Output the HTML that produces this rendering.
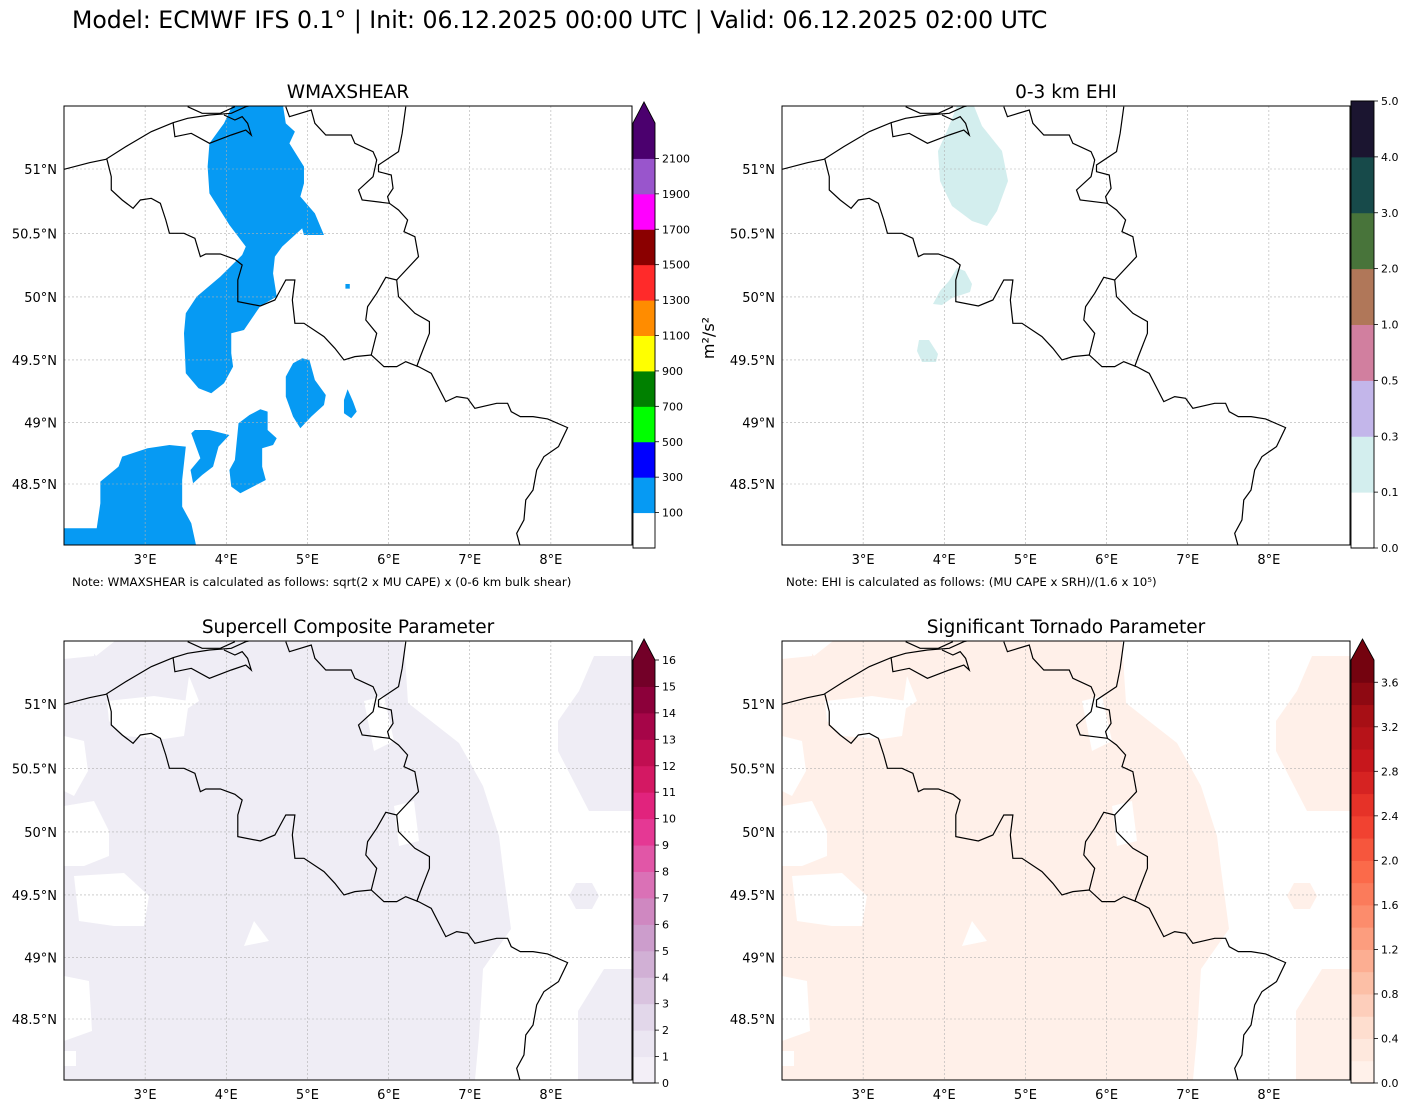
<!DOCTYPE html>
<html><head><meta charset="utf-8"><style>
html,body{margin:0;padding:0;background:#fff;}
svg{display:block;font-family:"DejaVu Sans","Liberation Sans",sans-serif;}
</style></head><body>
<svg id="fig" width="1409" height="1109" viewBox="0 0 1409 1109" xmlns="http://www.w3.org/2000/svg">
<rect width="1409" height="1109" fill="#fff"/>
<text x="72" y="28" font-size="23.6" fill="#000">Model: ECMWF IFS 0.1° | Init: 06.12.2025 00:00 UTC | Valid: 06.12.2025 02:00 UTC</text>
<defs>
<clipPath id="clip"><rect x="0" y="0" width="568" height="439"/></clipPath>
<g id="borders" fill="none" stroke="#000" stroke-width="1.2">
 <g transform="matrix(0.3636,0,0,0.3333,0,-6)">
  <polyline vector-effect="non-scaling-stroke" points="0,208 70,188 115,178 170,140 240,95 300,68 340,55 400,45 460,40 500,20 520,15"/>
  <polyline vector-effect="non-scaling-stroke" points="118,178 130,230 130,270 160,300 190,325 210,300 240,295 265,310 280,360 290,400 330,400 360,415 375,470 390,462 430,462 470,478 490,495 478,540 478,605 540,618 580,600 600,560 610,540 635,540 628,600 635,670 660,670 715,710 745,745 770,780 800,770 845,765 880,800 915,800 940,785 975,800 1010,820 1050,905 1080,890 1110,895 1130,925 1190,910 1220,910 1230,935 1255,950 1290,950 1330,957 1385,983 1360,1040 1320,1070 1300,1110 1290,1170 1270,1200 1265,1260 1245,1300 1255,1340"/>
  <polyline vector-effect="non-scaling-stroke" points="845,765 860,700 830,660 835,620 860,580 885,532 915,540 920,590 965,640 1005,665 1005,700 980,770 970,800"/>
  <polyline vector-effect="non-scaling-stroke" points="915,540 975,470 965,410 935,395 945,360 920,330 895,310 890,290 905,265 900,225 865,215 865,195 920,155 930,100 940,20"/>
  <polyline vector-effect="non-scaling-stroke" points="300,68 305,110 350,100 400,130 460,105 500,90 515,105 505,70 490,50 470,60 440,45"/>
  <polyline vector-effect="non-scaling-stroke" points="610,20 620,50 680,30 690,70 720,105 790,105 800,130 850,155 860,180 850,230 810,270 820,300 895,310"/>
  <polyline vector-effect="non-scaling-stroke" points="340,20 380,40 430,40 470,20"/>
 </g>
</g>
<g id="lowfill">
 <polygon points="32,15 51,0 340,0 344,62 395,102 419,145 435,195 439,228 447,288 419,328 415,395 411,439 0,439 0,300 0,0 20,0"/>
 <polygon points="530,15 569,15 569,170 525,170 494,110 494,80 515,50"/>
 <polygon points="540,328 569,328 569,439 514,439 514,370"/>
 <polygon points="505,255 512,242 528,242 535,255 528,268 512,268"/>
</g>
<g id="lowholes" fill="#fff">
 <polygon points="0,0 30,0 30,15 0,18"/>
 <polygon points="0,95 20,100 24,130 10,155 0,150"/>
 <polygon points="43,60 90,55 125,60 120,95 100,98 60,95 45,80"/>
 <polygon points="0,165 30,160 45,190 45,215 20,225 0,225"/>
 <polygon points="10,235 60,232 85,255 80,285 50,285 15,280"/>
 <polygon points="0,335 25,340 28,390 0,400"/>
 <polygon points="190,280 205,300 180,305"/>
 <polygon points="125,35 135,60 120,70"/>
 <polygon points="0,410 12,410 12,425 0,425"/>
 <polygon points="300,60 320,55 330,100 310,110"/>
 <polygon points="330,165 350,160 355,200 335,205"/>
</g>
</defs>
<g id="panels"></g>
</svg>
<script>
const NS="http://www.w3.org/2000/svg";
// ---- data arrays ----
const lonTicks=[3,4,5,6,7,8];
const lonLabels=["3°E","4°E","5°E","6°E","7°E","8°E"];
const latTicks=[51,50.5,50,49.5,49,48.5];
const latLabels=["51°N","50.5°N","50°N","49.5°N","49°N","48.5°N"];
const wmsLevels=[0,100,300,500,700,900,1100,1300,1500,1700,1900,2100,2300];
const wmsTickValues=[100,300,500,700,900,1100,1300,1500,1700,1900,2100];
const wmsTickLabels=["100","300","500","700","900","1100","1300","1500","1700","1900","2100"];
const wmsColors=["#ffffff","#069af3","#0000ff","#00ff00","#008000","#ffff00","#ff8c00","#ff2a2a","#8b0000","#ff00ff","#9955cc","#4b006e"];
const ehiLevels=[0,0.1,0.3,0.5,1.0,2.0,3.0,4.0,5.0];
const ehiTickLabels=["0.0","0.1","0.3","0.5","1.0","2.0","3.0","4.0","5.0"];
const ehiColors=["#ffffff","#d3eeee","#c3b6ea","#d17f9f","#b07759","#48743a","#174a4a","#1b1530"];
const scpLevels=[0,1,2,3,4,5,6,7,8,9,10,11,12,13,14,15,16];
const scpTickLabels=["0","1","2","3","4","5","6","7","8","9","10","11","12","13","14","15","16"];
const stpLevels=[0,0.2,0.4,0.6,0.8,1.0,1.2,1.4,1.6,1.8,2.0,2.2,2.4,2.6,2.8,3.0,3.2,3.4,3.6,3.8];
const stpTickValues=[0,0.4,0.8,1.2,1.6,2.0,2.4,2.8,3.2,3.6];
const stpTickLabels=["0.0","0.4","0.8","1.2","1.6","2.0","2.4","2.8","3.2","3.6"];
// ---- helpers ----
function mk(tag,attrs,parent){const e=document.createElementNS(NS,tag);for(const k in attrs)e.setAttribute(k,attrs[k]);if(parent)parent.appendChild(e);return e;}
const W=568,H=439,lon0=2,lon1=9;
function merc(l){return Math.log(Math.tan(Math.PI/4+l*Math.PI/360));}
function xOf(lon){return (lon-lon0)/(lon1-lon0)*W;}
const kY=315/(merc(51)-merc(48.5));
function yOf(lat){return 63+(merc(51)-merc(lat))*kY;}
function interp(anchors,t){const n=anchors.length-1;const p=Math.min(n-1e-9,Math.max(0,t*n));const i=Math.floor(p),f=p-i;
 const a=anchors[i],b=anchors[i+1];const h=c=>[parseInt(c.substr(1,2),16),parseInt(c.substr(3,2),16),parseInt(c.substr(5,2),16)];
 const A=h(a),B=h(b);return "rgb("+A.map((v,j)=>Math.round(v+(B[j]-v)*f)).join(",")+")";}
const PuRd=["#f7f4f9","#e7e1ef","#d4b9da","#c994c7","#df65b0","#e7298a","#ce1256","#980043","#67001f"];
const Reds=["#fff5f0","#fee0d2","#fcbba1","#fc9272","#fb6a4a","#ef3b2c","#cb181d","#a50f15","#67000d"];
const root=document.getElementById('panels');
const fig=document.getElementById('fig');

function panel(px,py,title,name){
 const g=mk('g',{transform:`translate(${px},${py})`},root);
 
 
 const t=mk('text',{x:W/2,y:-8,'text-anchor':'middle','font-size':'18.5'},g);t.textContent=title;
 
 
 const map=mk('g',{'clip-path':'url(#clip)'},g);
 
 
 return {g,map};
}
function finish(p){
 const grid=mk('g',{stroke:'#b0b0b0','stroke-width':'0.6','stroke-dasharray':'2,2'},p.map);
 
 
 lonTicks.forEach(l=>mk('line',{x1:xOf(l),x2:xOf(l),y1:0,y2:H},grid));
 latTicks.forEach(l=>mk('line',{x1:0,x2:W,y1:yOf(l),y2:yOf(l)},grid));
 const b=mk('use',{href:'#borders'},p.map);
 
 
 const fr=mk('rect',{x:0,y:0,width:W,height:H,fill:'none',stroke:'#000','stroke-width':'1'},p.g);
 
 
 lonTicks.forEach((l,i)=>{const t=mk('text',{x:xOf(l),y:H+19,'text-anchor':'middle','font-size':'13'},p.g);t.textContent=lonLabels[i];
  
  });
 latTicks.forEach((l,i)=>{const t=mk('text',{x:-7,y:yOf(l)+5,'text-anchor':'end','font-size':'13'},p.g);t.textContent=latLabels[i];
  
  });
}
// colorbar with uniform (index-based) spacing of levels
function colorbar(x,yTop,yBot,w,levels,colors,tickVals,tickLabels,extend,name){
 const g=mk('g',{},fig);
 
 
 const n=levels.length-1;
 const yi=i=>yBot-i/n*(yBot-yTop);
 const yv=v=>{for(let i=0;i<n;i++){if(v<=levels[i+1]){const f=(v-levels[i])/(levels[i+1]-levels[i]);return yi(i+f);}}return yi(n);};
 for(let i=0;i<n;i++){
  const r=mk('rect',{x:x,y:yi(i+1),width:w,height:yi(i)-yi(i+1)+0.5,fill:colors[i]},g);
  
  
 }
 let outline=`M${x},${yBot} L${x},${yTop} L${x+w},${yTop} L${x+w},${yBot} Z`;
 if(extend){const tri=mk('polygon',{points:`${x},${yTop} ${x+w/2},${yTop-21} ${x+w},${yTop}`,fill:colors[colors.length-1]},g);
  
  
  outline=`M${x},${yBot} L${x},${yTop} L${x+w/2},${yTop-21} L${x+w},${yTop} L${x+w},${yBot} Z`;}
 mk('path',{d:outline,fill:'none',stroke:'#000','stroke-width':'0.9'},g);
 tickVals.forEach((v,i)=>{const y=yv(v);mk('line',{x1:x+w,x2:x+w+4,y1:y,y2:y,stroke:'#000','stroke-width':'0.8'},g);
  const t=mk('text',{x:x+w+7,y:y+4,'font-size':'11'},g);t.textContent=tickLabels[i];
  
  });
}
// Panel 1
const p1=panel(64,106,'WMAXSHEAR','panel-wmaxshear');
const blobs=mk('g',{transform:'matrix(0.3636,0,0,0.3333,0,-6)',fill:'#069af3'},p1.map);


["400,130 440,70 470,0 600,0 610,70 635,95 620,130 660,200 660,250 650,290 690,340 715,405 660,405 655,385 600,440 580,470 575,520 585,590 540,618 520,650 495,690 460,700 460,760 465,800 440,850 405,880 370,865 335,820 330,700 335,640 365,590 430,530 490,465 500,440 455,375 400,280 395,200",
 "655,775 675,780 690,840 720,885 715,915 680,950 650,985 630,950 610,890 610,830 630,790",
 "780,868 795,905 805,935 790,955 770,940 770,900",
 "540,928 560,935 560,990 585,1015 575,1035 545,1045 545,1100 555,1140 520,1160 485,1180 460,1160 455,1110 470,1080 480,970 510,945",
 "360,990 400,990 455,1005 425,1040 410,1100 380,1125 355,1150 348,1110 375,1075 360,1030 350,1000",
 "160,1070 230,1045 290,1035 335,1040 325,1140 325,1220 350,1270 365,1345 0,1345 0,1285 90,1285 100,1210 100,1145 150,1100",
 "774,552 786,552 786,566 774,566"].forEach(p=>mk('polygon',{points:p},blobs));
finish(p1);
const n1=mk('text',{x:72,y:586,'font-size':'11.8'},fig);n1.textContent='Note: WMAXSHEAR is calculated as follows: sqrt(2 x MU CAPE) x (0-6 km bulk shear)';


colorbar(633,123,548,22,wmsLevels,wmsColors,wmsTickValues,wmsTickLabels,true,'colorbar-wmaxshear');
const ul=mk('text',{x:0,y:0,'font-size':'16',transform:'translate(714,338) rotate(-90)','text-anchor':'middle'},fig);ul.textContent='m²/s²';


// Panel 2
const p2=panel(782,106,'0-3 km EHI','panel-ehi');
const eg=mk('g',{fill:'#d3eeee'},p2.map);


["175,0 192,0 200,20 220,45 226,75 215,105 205,120 190,115 170,100 158,75 156,45 165,25",
 "175,162 183,165 190,178 188,186 170,192 160,199 151,198 158,185 167,175",
 "137,234 147,234 156,248 154,256 140,256 135,245"].forEach(p=>mk('polygon',{points:p},eg));
finish(p2);
const n2=mk('text',{x:786,y:586,'font-size':'11.8'},fig);n2.textContent='Note: EHI is calculated as follows: (MU CAPE x SRH)/(1.6 x 10⁵)';


colorbar(1351,101,548,23,ehiLevels,ehiColors,ehiLevels,ehiTickLabels,false,'colorbar-ehi');
// Panel 3
const p3=panel(64,641,'Supercell Composite Parameter','panel-scp');
const f3=mk('use',{href:'#lowfill',fill:'#efedf5'},p3.map);


mk('use',{href:'#lowholes'},p3.map);
finish(p3);
const scpColors=scpLevels.slice(0,-1).map((v,i)=>interp(PuRd,(i+0.5)/(scpLevels.length-1)));
colorbar(633,660,1083,22,scpLevels,scpColors,scpLevels,scpTickLabels,true,'colorbar-scp');
// Panel 4
const p4=panel(782,641,'Significant Tornado Parameter','panel-stp');
const f4=mk('use',{href:'#lowfill',fill:'#fff0e9'},p4.map);


mk('use',{href:'#lowholes'},p4.map);
finish(p4);
const stpColors=stpLevels.slice(0,-1).map((v,i)=>interp(Reds,(i+0.5)/(stpLevels.length-1)));
colorbar(1351,660,1083,23,stpLevels,stpColors,stpTickValues,stpTickLabels,true,'colorbar-stp');
</script>
</body></html>
